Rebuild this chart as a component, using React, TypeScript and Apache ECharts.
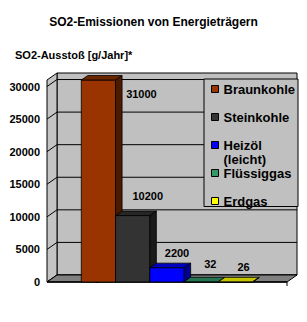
import React, { useEffect, useRef } from "react";
import * as echarts from "echarts";

// ---- data ----
const categories = ["Braunkohle", "Steinkohle", "Heizöl (leicht)", "Flüssiggas", "Erdgas"];
const values = [31000, 10200, 2200, 32, 26];
const yTicks = [0, 5000, 10000, 15000, 20000, 25000, 30000];
const chartTitle = "SO2-Emissionen von Energieträgern";
const axisTitle = "SO2-Ausstoß [g/Jahr]*";

// ---- styles ----
const frontColors = ["#993300", "#333333", "#0000ff", "#339966", "#ffff00"];
const topColors = ["#6b2600", "#262626", "#0000c0", "#267552", "#c4c400"];
const sideColors = ["#4d1a00", "#1a1a1a", "#000090", "#1d5c40", "#999900"];
const labelOffsets: [number, number][] = [[43, 14], [15, -20], [10, -15], [9, -18], [8, -15]];
const FONT = "Arial, 'Liberation Sans', Helvetica, sans-serif";
const X_MIN = -1.5;
const X_MAX = 5.5;
const Y_MAX = 31000;
const WALL_D = [10, -7];
const BAR_D = [6.5, -4.5];

function wallRender(params: any, api: any) {
  const [xl, yb] = api.coord([X_MIN, 0]);
  const [xr, yt] = api.coord([X_MAX, Y_MAX]);
  const [dx, dy] = WALL_D;
  const children: any[] = [];
  children.push({
    type: "rect",
    shape: { x: xl + dx, y: yt + dy, width: xr - xl, height: yb - yt },
    style: { fill: "#c0c0c0", stroke: "#000", lineWidth: 1 },
  });
  yTicks.forEach((t) => {
    const y = api.coord([X_MIN, t])[1];
    children.push({
      type: "line",
      shape: { x1: xl + dx, y1: y + dy, x2: xr + dx, y2: y + dy },
      style: { stroke: "#000", lineWidth: 1 },
    });
  });
  children.push({
    type: "polygon",
    shape: { points: [[xl, yt], [xl + dx, yt + dy], [xl + dx, yb + dy], [xl, yb]] },
    style: { fill: "#c4c4c4", stroke: "#000", lineWidth: 1 },
  });
  yTicks.forEach((t) => {
    const y = api.coord([X_MIN, t])[1];
    children.push({
      type: "line",
      shape: { x1: xl, y1: y, x2: xl + dx, y2: y + dy },
      style: { stroke: "#000", lineWidth: 1 },
    });
  });
  children.push({
    type: "polygon",
    shape: { points: [[xl, yb], [xl + dx, yb + dy], [xr + dx, yb + dy], [xr, yb]] },
    style: { fill: "#808080", stroke: "#000", lineWidth: 1 },
  });
  children.push({
    type: "line",
    shape: { x1: xl, y1: yb, x2: xr, y2: yb },
    style: { stroke: "#000", lineWidth: 1.5 },
  });
  children.push({
    type: "line",
    shape: { x1: xr, y1: yb, x2: xr, y2: yb + 4 },
    style: { stroke: "#000", lineWidth: 1 },
  });
  return { type: "group", children };
}

function barRender(idx: number) {
  return (params: any, api: any) => {
    const i = api.value(0);
    const v = api.value(1);
    const [cx, yTop] = api.coord([i, v]);
    const y0 = api.coord([i, 0])[1];
    const w = api.size([1, 0])[0];
    const x0 = cx - w / 2;
    const x1 = cx + w / 2;
    const [dx, dy] = BAR_D;
    const edge = { stroke: "#000", lineWidth: 0.8 };
    return {
      type: "group",
      children: [
        {
          type: "rect",
          shape: { x: x0, y: yTop, width: w, height: y0 - yTop },
          style: { fill: frontColors[idx], ...edge },
        },
        {
          type: "polygon",
          shape: { points: [[x0, yTop], [x0 + dx, yTop + dy], [x1 + dx, yTop + dy], [x1, yTop]] },
          style: { fill: topColors[idx], ...edge },
        },
        {
          type: "polygon",
          shape: { points: [[x1, yTop], [x1 + dx, yTop + dy], [x1 + dx, y0 + dy], [x1, y0]] },
          style: { fill: sideColors[idx], ...edge },
        },
        {
          type: "text",
          x: cx + labelOffsets[idx][0],
          y: yTop + labelOffsets[idx][1],
          style: {
            text: String(v),
            fill: "#000",
            font: `bold 11px ${FONT}`,
            align: "center",
            verticalAlign: "middle",
          },
        },
      ],
    };
  };
}

const legendFont = { fontFamily: FONT, fontWeight: "bold", fontSize: 13, color: "#000" };

const legendCommon = {
  orient: "vertical",
  left: 204,
  itemWidth: 7,
  itemHeight: 7,
  itemGap: 14,
  icon: "rect",
  itemStyle: { borderColor: "#000", borderWidth: 1 },
  textStyle: {
    ...legendFont,
    lineHeight: 14,
    rich: {
      a: { ...legendFont, lineHeight: 14 },
      b: { ...legendFont, lineHeight: 0, padding: [14, 0, 0, 0] },
    },
  },
  formatter: (n: string) => {
    const k = n.indexOf(" (");
    return k < 0 ? n : `{a|${n.slice(0, k)}}\n{b|${n.slice(k + 1)}}`;
  },
};

export default function App() {
  const ref = useRef<HTMLDivElement>(null);
  useEffect(() => {
    document.body.style.margin = "0";
    const chart = echarts.init(ref.current!, null, { renderer: "svg" });
    const option: any = {
      animation: false,
      backgroundColor: "#ffffff",
      title: [
        {
          text: chartTitle,
          left: "center",
          top: 15,
          padding: 0,
          textStyle: { fontFamily: FONT, fontWeight: "bold", fontSize: 12, color: "#000", lineHeight: 14 },
        },
        {
          text: axisTitle,
          left: 15,
          top: 48,
          padding: 0,
          textStyle: { fontFamily: FONT, fontWeight: "bold", fontSize: 11, color: "#000", lineHeight: 13 },
        },
      ],
      grid: { left: 47, top: 80, width: 240, height: 202, containLabel: false },
      xAxis: { type: "value", min: X_MIN, max: X_MAX, show: false },
      yAxis: {
        type: "value",
        min: 0,
        max: Y_MAX,
        interval: 5000,
        splitLine: { show: false },
        axisLine: { show: true, lineStyle: { color: "#000", width: 1 } },
        axisTick: { show: true, length: 3, customValues: yTicks, lineStyle: { color: "#000" } },
        axisLabel: {
          customValues: yTicks,
          margin: 7,
          color: "#000",
          fontFamily: FONT,
          fontWeight: "bold",
          fontSize: 11,
          formatter: (v: number) => (v > 30000 ? "" : String(v)),
        },
      },
      legend: [
        {
          ...legendCommon,
          top: 79,
          padding: [3, 3, 41, 7],
          backgroundColor: "#c0c0c0",
          borderColor: "#000",
          borderWidth: 1,
          z: 4,
          data: categories.slice(0, 3),
        },
        {
          ...legendCommon,
          top: 166,
          padding: [0, 3, 0, 7],
          z: 5,
          data: categories.slice(3),
        },
      ],
      series: [
        {
          type: "custom",
          name: "walls",
          silent: true,
          clip: false,
          z: 1,
          data: [[0, 0]],
          renderItem: wallRender,
        },
        ...categories.map((name, idx) => ({
          type: "custom",
          name,
          clip: false,
          z: 2,
          itemStyle: { color: frontColors[idx], borderColor: "#000", borderWidth: 1 },
          data: [[idx, values[idx]]],
          renderItem: barRender(idx),
        })),
      ],
    };
    chart.setOption(option);
    return () => chart.dispose();
  }, []);
  return <div ref={ref} style={{ width: 307, height: 322, position: "absolute", left: 0, top: 0 }} />;
}
